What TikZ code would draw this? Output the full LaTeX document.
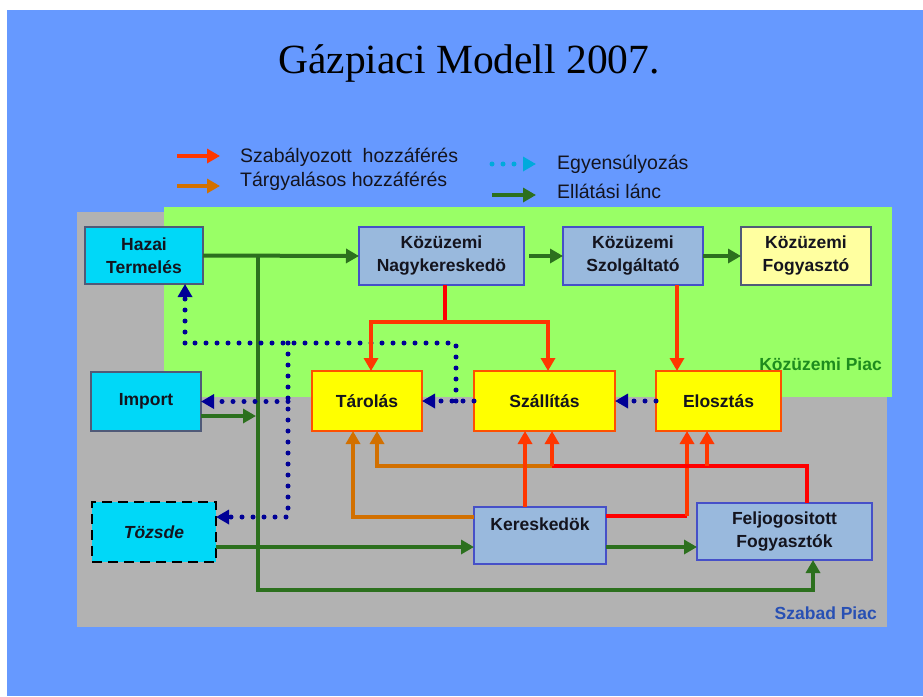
\documentclass[tikz,border=0pt]{standalone}
\usepackage{fontspec}
\setmainfont{Liberation Serif}
\newfontfamily\lsans{Liberation Sans}
\usetikzlibrary{arrows.meta}
\definecolor{bgblue}{RGB}{102,153,255}
\definecolor{pgreen}{RGB}{153,255,102}
\definecolor{pgray}{RGB}{178,178,178}
\definecolor{cyanbox}{RGB}{0,216,248}
\definecolor{grayedge}{RGB}{80,90,120}
\definecolor{bluebox}{RGB}{153,185,221}
\definecolor{blueedge}{RGB}{70,80,200}
\definecolor{yelbox}{RGB}{255,255,0}
\definecolor{yeledge}{RGB}{255,80,0}
\definecolor{lightyel}{RGB}{255,255,160}
\definecolor{chain}{RGB}{44,112,30}
\definecolor{regred}{RGB}{255,55,0}
\definecolor{purered}{RGB}{255,0,0}
\definecolor{negor}{RGB}{210,112,0}
\definecolor{navytwo}{RGB}{0,0,150}
\definecolor{cyandot}{RGB}{0,170,220}
\definecolor{txtdark}{RGB}{20,20,30}
\definecolor{labgreen}{RGB}{30,140,30}
\definecolor{labblue}{RGB}{40,80,180}
\begin{document}
\begin{tikzpicture}[x=1pt,y=-1pt,
  boxfont/.style={font=\lsans\bfseries\fontsize{17.5}{23}\selectfont, text=txtdark},
  box/.style={draw, line width=1.2pt, inner sep=0pt, outer sep=0pt, align=center, boxfont},
  cyanb/.style={box, fill=cyanbox, draw=grayedge},
  blueb/.style={box, fill=bluebox, draw=blueedge},
  yelb/.style={box, fill=yelbox, draw=yeledge, line width=2pt},
  lyelb/.style={box, fill=lightyel, draw=grayedge},
  arrtip/.style={-{Triangle[length=13pt,width=14pt]}},
  gl/.style={draw=chain, line width=4pt},
  rl/.style={draw=regred, line width=4.5pt},
  prl/.style={draw=purered, line width=4.5pt},
  ol/.style={draw=negor, line width=4pt},
  dl/.style={draw=navytwo, line width=5pt, line cap=round, dash pattern=on 0pt off 11pt},
  cdl/.style={draw=cyandot, line width=5pt, line cap=round, dash pattern=on 0pt off 11pt},
  legtext/.style={anchor=west, inner sep=0pt, font=\lsans\fontsize{19.5}{22}\selectfont, text=txtdark},
  arealab/.style={anchor=east, inner sep=0pt, font=\lsans\bfseries\fontsize{17.5}{20}\selectfont}
]
\useasboundingbox (0,0) rectangle (923,696);
\fill[white] (0,0) rectangle (923,696);
\fill[bgblue] (7,10) rectangle (923,696);
\fill[pgray] (77,212) rectangle (887,627);
\fill[pgreen] (164,207) rectangle (892,397);

% title
\node[inner sep=0pt, font=\fontsize{41.5}{46}\selectfont] (title) at (469,63) {Gázpiaci Modell 2007.};

% legend
\coordinate (lr1) at (177,156); \coordinate (lr2) at (220,156);
\coordinate (lo1) at (177,186); \coordinate (lo2) at (220,186);
\coordinate (lc1) at (492,164); \coordinate (lc2) at (536,164);
\coordinate (lg1) at (492,195); \coordinate (lg2) at (536,195);
\draw[rl, arrtip] (lr1) -- (lr2);
\draw[ol, arrtip] (lo1) -- (lo2);
\draw[cdl, arrtip] (lc1) -- (lc2);
\draw[gl, arrtip] (lg1) -- (lg2);
\node[legtext] (t1) at (240,157) {Szabályozott\ \ hozzáférés};
\node[legtext] (t2) at (240,181) {Tárgyalásos hozzáférés};
\node[legtext] (t3) at (557,164) {Egyensúlyozás};
\node[legtext] (t4) at (557,191) {Ellátási lánc};

% area labels
\node[arealab, text=labgreen] (kp) at (882,364) {Közüzemi Piac};
\node[arealab, text=labblue] (sp) at (877,613) {Szabad Piac};

% nodes
\node[cyanb, minimum width=118pt, minimum height=57pt] (hazai) at (144,255.5) {Hazai\\Termelés};
\node[blueb, minimum width=165pt, minimum height=58pt] (nagy) at (441.5,256) {Közüzemi\\Nagykereskedö};
\node[blueb, minimum width=140pt, minimum height=58pt] (szolg) at (633,256) {Közüzemi\\Szolgáltató};
\node[lyelb, minimum width=130pt, minimum height=58pt] (fogy) at (806,256) {Közüzemi\\Fogyasztó};
\node[cyanb, minimum width=110pt, minimum height=59pt] (import) at (146,401.5) {Import};
\node[yelb, minimum width=110pt, minimum height=60pt] (tarolas) at (367,401) {Tárolás};
\node[yelb, minimum width=141pt, minimum height=60pt] (szall) at (544.5,401) {Szállítás};
\node[yelb, minimum width=125pt, minimum height=60pt] (eloszt) at (718.5,401) {Elosztás};
\node[box, fill=cyanbox, draw=black, line width=2.5pt, dash pattern=on 10pt off 6pt,
  minimum width=124pt, minimum height=60pt, font=\lsans\bfseries\itshape\fontsize{17.5}{23}\selectfont] (tozsde) at (154,532) {Tözsde};
\node[blueb, minimum width=132pt, minimum height=57pt] (ker) at (540,535.5) {};
\node[boxfont, inner sep=0pt] (kertext) at (540,524) {Kereskedök};
\node[blueb, minimum width=175pt, minimum height=57pt] (feljog) at (784.5,531.5) {Feljogositott\\Fogyasztók};

% supply chain (green)
\coordinate (j1) at (258,256);
\coordinate (j2) at (256,416);
\draw[gl, arrtip] (hazai.east) -- (nagy.west);
\draw[gl, arrtip] (j1) -- (258,590) -- (813,590) -- ([xshift=28.5pt]feljog.south);
\draw[gl, arrtip] ([xshift=5pt]nagy.east) -- (szolg.west);
\draw[gl, arrtip] (szolg.east) -- (fogy.west);
\draw[gl, arrtip] ([yshift=-14.5pt]import.east) -- (j2);
\draw[gl, arrtip] ([yshift=-15pt]tozsde.east) -- ([yshift=-11.5pt]ker.west);
\draw[gl, arrtip] ([yshift=-11.5pt]ker.east) -- ([yshift=-15.5pt]feljog.west);

% balancing (dotted navy)
\coordinate (d1) at (456,343);
\coordinate (d2) at (185,343);
\coordinate (d3) at (288,343);
\coordinate (d4) at (456,401);
\coordinate (d5) at (288,401.5);
\draw[dl, arrtip] (szall.west) -- (tarolas.east);
\draw[dl] (d4) -- (d1) -- (d2);
\draw[dl, arrtip] (d2) -- ([xshift=41pt]hazai.south);
\draw[dl, arrtip] (d3) |- ([yshift=15pt]tozsde.east);
\draw[dl, arrtip] (d5) -- (import.east);
\draw[dl, arrtip] (eloszt.west) -- (szall.east);

% negotiated access (orange)
\coordinate (r2) at (552,466);
\draw[ol, arrtip] (r2) -| ([xshift=10pt]tarolas.south);
\draw[ol, arrtip] ([yshift=18.5pt]ker.west) -| ([xshift=-14pt]tarolas.south);

% regulated access (red)
\coordinate (r1) at (445,322);
\draw[prl] ([xshift=3.5pt]nagy.south) -- (r1);
\draw[prl] (371,322) -- (548,322);
\draw[rl, arrtip] (r1) -| ([xshift=4pt]tarolas.north);
\draw[rl, arrtip] (r1) -| ([xshift=3.5pt]szall.north);
\draw[rl, arrtip] ([xshift=44pt]szolg.south) -- ([xshift=-41.5pt]eloszt.north);
\draw[rl, arrtip] ([xshift=-15pt]ker.north) -- ([xshift=-19.5pt]szall.south);
\draw[prl] ([yshift=19.5pt]ker.east) -- (687,516);
\draw[rl, arrtip] (687,516) -- ([xshift=-31.5pt]eloszt.south);
\draw[prl] ([xshift=22.5pt]feljog.north) |- (r2);
\draw[rl, arrtip] (r2) -- ([xshift=7.5pt]szall.south);
\draw[rl, arrtip] (707,466) -- ([xshift=-11.5pt]eloszt.south);
\end{tikzpicture}
\end{document}
